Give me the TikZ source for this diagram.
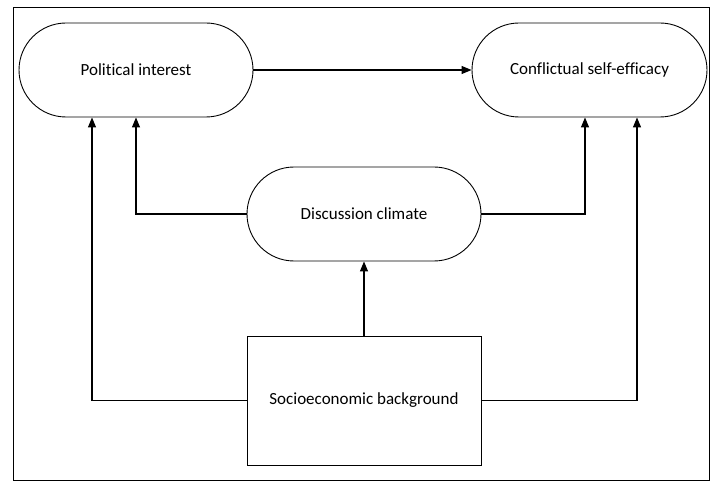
\documentclass[tikz,border=0pt]{standalone}
\usepackage{fontspec}
\setmainfont{Carlito}[Ligatures=NoCommon]
\usetikzlibrary{arrows.meta}
\begin{document}
\begin{tikzpicture}[x=1pt,y=-1pt,
  stadium/.style={draw, line width=0.9pt, rounded corners=47pt, minimum width=234pt, minimum height=94pt, inner sep=0pt, font=\fontsize{17}{20}\selectfont},
  boxnode/.style={draw, line width=0.9pt, minimum width=234pt, minimum height=129pt, inner sep=0pt, font=\fontsize{17}{20}\selectfont},
  arr/.style={line width=1.2pt, -{Triangle[width=8pt,length=10pt]}}]
\useasboundingbox (0,0) rectangle (715,481);
\draw[line width=0.8pt] (13,7) rectangle (709,480);
\node[stadium] (pol) at (136,70) {Political interest};
\node[stadium, minimum width=235pt] (conf) at (589.5,70) {Conflictual self-efficacy};
\node[stadium] (disc) at (364,214) {Discussion climate};
\node[boxnode] (socio) at (364,400.5) {Socioeconomic background};
\draw[arr] (pol.east) -- (conf.west);
\draw[arr] (disc.west) -| (pol.south);
\draw[arr] (disc.east) -| ([xshift=-4.5pt]conf.south);
\draw[arr] (socio.north) -- (disc.south);
\draw[arr] (socio.west) -| ([xshift=-44pt]pol.south);
\draw[arr] (socio.east) -| ([xshift=47.5pt]conf.south);
\end{tikzpicture}
\end{document}
